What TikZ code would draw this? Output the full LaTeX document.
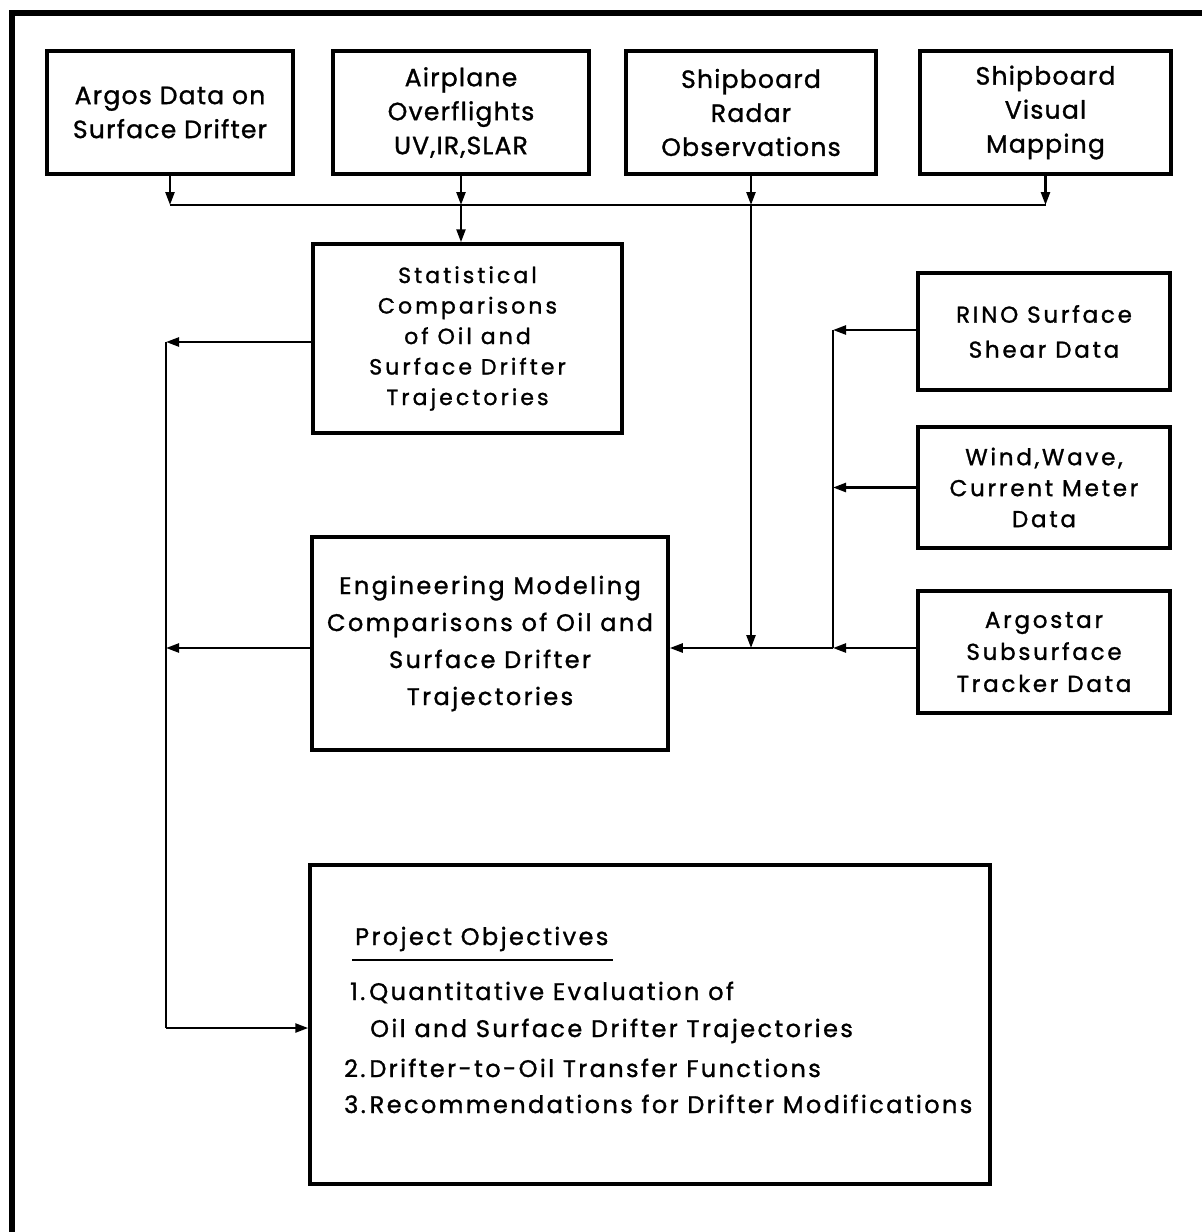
\documentclass[tikz,border=0pt]{standalone}
\usepackage{fontspec}
\newfontfamily\lfA{Poppins}[LetterSpace=5,FakeBold=1.2]
\newfontfamily\lfB{Poppins}[LetterSpace=14,FakeBold=1.2]
\newfontfamily\lfC{Poppins}[LetterSpace=10,FakeBold=1.2]
\newfontfamily\lfD{Poppins}[LetterSpace=12,FakeBold=1.2]
\usetikzlibrary{arrows.meta}
\tikzset{
  box/.style={draw, line width=3.5pt, inner sep=0pt, align=center, font=\lfA\fontsize{25}{34}\selectfont},
  conn/.style={line width=2.4pt},
  arr/.style={line width=2.4pt, -{Triangle[length=13pt,width=9pt]}},
  ptext/.style={anchor=base west, inner sep=0pt, font=\lfC\fontsize{24}{30}\selectfont}
}
\begin{document}
\begin{tikzpicture}[x=1pt,y=-1pt]
\useasboundingbox (0,0) rectangle (1202,1232);
% outer frame
\draw[line width=6pt] (12,1232) -- (12,13) -- (1202,13);

% top row
\node[box, minimum width=246, minimum height=123] (argos) at (170,112.5) {Argos Data on\\Surface Drifter};
\node[box, minimum width=256, minimum height=123] (air) at (461,112.5) {Airplane\\Overflights\\UV,IR,SLAR};
\node[box, minimum width=250, minimum height=123] (radar) at (751,112.5) {Shipboard\\Radar\\Observations};
\node[box, minimum width=251, minimum height=123] (visual) at (1045.5,112.5) {Shipboard\\Visual\\Mapping};

% middle
\node[box, minimum width=309, minimum height=189, font=\lfB\fontsize{22}{30.5}\selectfont] (stat) at (467.5,338.5) {Statistical\\Comparisons\\of Oil and\\Surface Drifter\\Trajectories\rule[-4pt]{0pt}{1pt}};
\node[box, minimum width=356, minimum height=213, font=\lfC\fontsize{24}{37}\selectfont] (eng) at (490,643.5) {Engineering Modeling\\Comparisons of Oil and\\Surface Drifter\\Trajectories\rule[-4pt]{0pt}{1pt}};

% right column
\node[box, minimum width=252, minimum height=117, font=\lfD\fontsize{23}{35}\selectfont] (rino) at (1044,331.5) {RINO Surface\\Shear Data};
\node[box, minimum width=252, minimum height=121, font=\lfD\fontsize{23}{31}\selectfont] (wind) at (1044,487.5) {Wind,Wave,\\Current Meter\\Data};
\node[box, minimum width=252, minimum height=122, font=\lfD\fontsize{23}{32}\selectfont] (argostar) at (1044,652) {Argostar\\Subsurface\\Tracker Data};

% project objectives
\node[box, minimum width=680, minimum height=319] (proj) at (650,1024.5) {};
\node[ptext] (pot) at (355,945) {Project Objectives};
\draw[conn] ([xshift=-3pt,yshift=-15pt]pot.base west) -- ([xshift=4pt,yshift=-15pt]pot.base east);
\node[ptext] (i1a) at (350,1000) {1.\,Quantitative Evaluation of};
\node[ptext] (i1b) at (370,1037) {Oil and Surface Drifter Trajectories};
\node[ptext] (i2) at (344,1077) {2.\,Drifter-to-Oil Transfer Functions};
\node[ptext] (i3) at (344,1113) {3.\,Recommendations for Drifter Modifications};

% junction coordinates
\coordinate (busy) at (0,205);
\coordinate (jr) at (833,648);
\coordinate (ct) at (833,330);
\coordinate (lt) at (166,342);
\coordinate (lb) at (166,1028);

% top bus
\draw[arr] (argos.south) -- (argos.south |- busy);
\draw[conn] (argos.south |- busy) -- (visual.south |- busy);
\draw[arr] (air.south) -- (air.south |- busy);
\draw[arr] (air.south |- busy) -- (stat.north -| air.south);
\draw[arr] (radar.south) -- (radar.south |- busy);
\draw[arr] (radar.south |- busy) -- (radar.south |- jr);
\draw[arr] (visual.south) -- (visual.south |- busy);

% right collector
\draw[conn] (ct) -- (jr);
\draw[arr] (rino.west |- ct) -- (ct);
\draw[arr] (wind.west) -- (wind.west -| ct);
\draw[arr] (argostar.west |- jr) -- (jr);
\draw[arr] (jr) -- (eng.east |- jr);

% left return line
\draw[arr] (stat.west |- lt) -- (lt);
\draw[arr] (eng.west |- jr) -- (lt |- jr);
\draw[conn] (lt) -- (lb);
\draw[arr] (lb) -- (proj.west |- lb);
\end{tikzpicture}
\end{document}
